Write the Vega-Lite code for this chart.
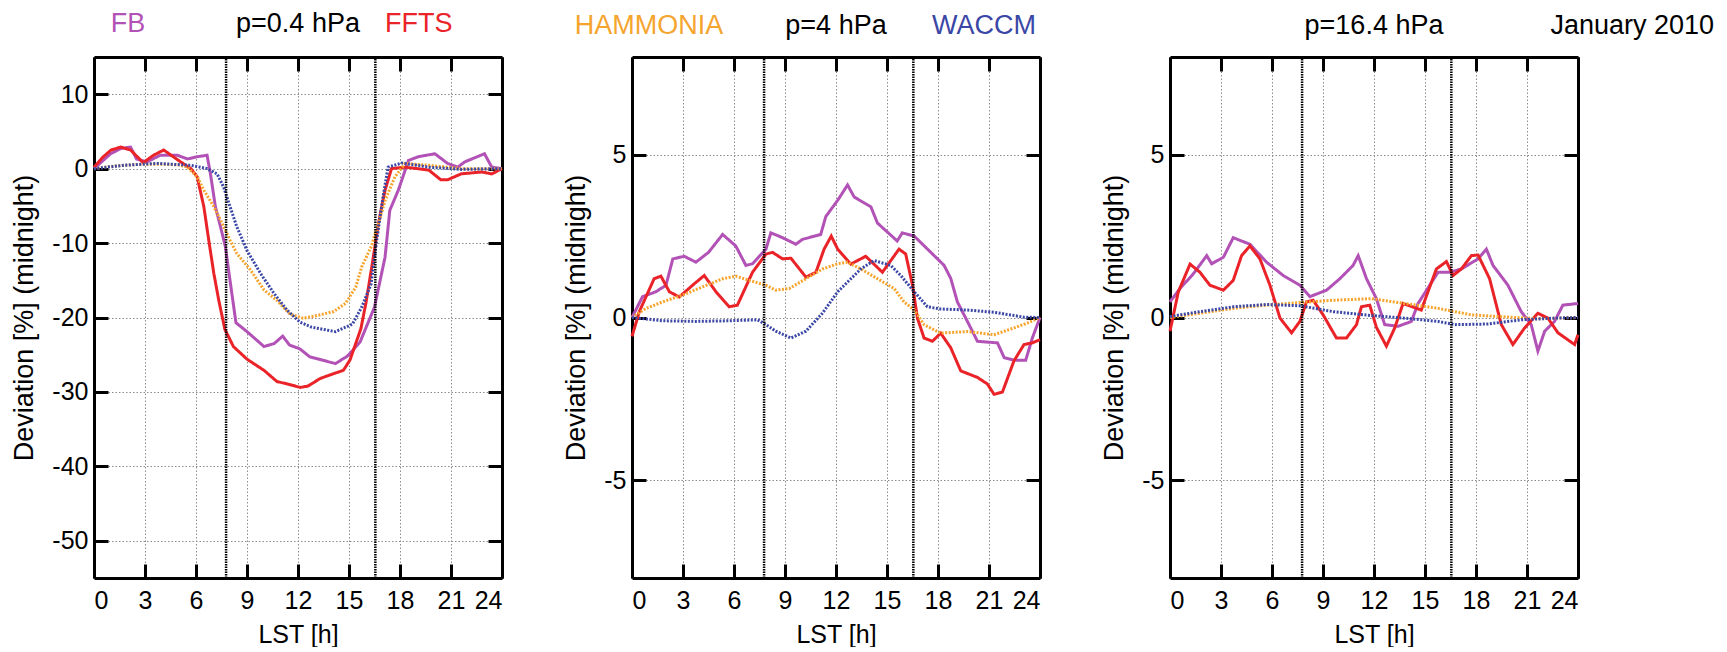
{
"$schema": "https://vega.github.io/schema/vega-lite/v6.json",
"background": "white",
"padding": {"left": 10, "top": 10, "right": 0, "bottom": 0},
"bounds": "flush",
"spacing": 130,
"config": {
 "view": {"stroke": null},
 "font": "Liberation Sans",
 "text": {"font": "Liberation Sans"},
 "axis": {"domainColor": "black", "domainWidth": 3, "tickColor": "black", "tickWidth": 3, "tickSize": -14, "labelFont": "Liberation Sans", "labelFontSize": 25, "labelColor": "black", "titleFont": "Liberation Sans", "titleFontSize": 25, "titleFontWeight": "normal", "titleColor": "black", "gridColor": "#8c8c8c", "gridDash": [1.5, 2], "gridWidth": 1, "labelPadding": 20, "labelExpr": "replace(datum.label, '\u2212', '-')"},
 "axisX": {"labelPadding": 24, "titlePadding": 9},
 "axisY": {"titleFontSize": 27, "titlePadding": 13}
},
"datasets": {
 "sun": [{"lst": 7.77}, {"lst": 16.55}],
 "p1": [
  {"model":"FB","lst":0,"dev":0},{"model":"FB","lst":0.98,"dev":2.0},{"model":"FB","lst":1.57,"dev":2.7},{"model":"FB","lst":2.15,"dev":2.9},{"model":"FB","lst":2.5,"dev":1.3},{"model":"FB","lst":3.1,"dev":0.9},{"model":"FB","lst":3.9,"dev":1.8},{"model":"FB","lst":4.9,"dev":1.8},{"model":"FB","lst":5.5,"dev":1.3},{"model":"FB","lst":6.07,"dev":1.6},{"model":"FB","lst":6.65,"dev":1.8},{"model":"FB","lst":6.85,"dev":-0.7},{"model":"FB","lst":7.14,"dev":-5.1},{"model":"FB","lst":7.44,"dev":-7.8},{"model":"FB","lst":7.73,"dev":-10.5},{"model":"FB","lst":8.0,"dev":-15},{"model":"FB","lst":8.35,"dev":-20.7},{"model":"FB","lst":9.0,"dev":-21.9},{"model":"FB","lst":10.0,"dev":-23.9},{"model":"FB","lst":10.6,"dev":-23.5},{"model":"FB","lst":11.1,"dev":-22.5},{"model":"FB","lst":11.5,"dev":-23.7},{"model":"FB","lst":12.1,"dev":-24.2},{"model":"FB","lst":12.7,"dev":-25.3},{"model":"FB","lst":13.4,"dev":-25.7},{"model":"FB","lst":14.2,"dev":-26.2},{"model":"FB","lst":14.9,"dev":-25.2},{"model":"FB","lst":15.65,"dev":-23.3},{"model":"FB","lst":16.5,"dev":-18.6},{"model":"FB","lst":17.12,"dev":-11.9},{"model":"FB","lst":17.4,"dev":-5.6},{"model":"FB","lst":17.9,"dev":-2.9},{"model":"FB","lst":18.5,"dev":1.1},{"model":"FB","lst":19.07,"dev":1.6},{"model":"FB","lst":20.05,"dev":2.0},{"model":"FB","lst":20.8,"dev":0.7},{"model":"FB","lst":21.4,"dev":0.2},{"model":"FB","lst":21.8,"dev":0.9},{"model":"FB","lst":22.97,"dev":2.0},{"model":"FB","lst":23.4,"dev":0.2},{"model":"FB","lst":24,"dev":0},
  {"model":"FFTS","lst":0,"dev":0.2},{"model":"FFTS","lst":0.5,"dev":1.5},{"model":"FFTS","lst":1.0,"dev":2.5},{"model":"FFTS","lst":1.57,"dev":2.9},{"model":"FFTS","lst":2.15,"dev":2.5},{"model":"FFTS","lst":2.9,"dev":0.8},{"model":"FFTS","lst":3.5,"dev":1.8},{"model":"FFTS","lst":4.1,"dev":2.5},{"model":"FFTS","lst":5.1,"dev":0.9},{"model":"FFTS","lst":5.7,"dev":0},{"model":"FFTS","lst":6.07,"dev":-1.1},{"model":"FFTS","lst":6.46,"dev":-5.1},{"model":"FFTS","lst":6.75,"dev":-9.6},{"model":"FFTS","lst":7.05,"dev":-14.1},{"model":"FFTS","lst":7.34,"dev":-17.7},{"model":"FFTS","lst":7.7,"dev":-21.6},{"model":"FFTS","lst":8.2,"dev":-23.9},{"model":"FFTS","lst":9.0,"dev":-25.6},{"model":"FFTS","lst":10.0,"dev":-27.1},{"model":"FFTS","lst":10.76,"dev":-28.6},{"model":"FFTS","lst":11.5,"dev":-29.0},{"model":"FFTS","lst":12.13,"dev":-29.4},{"model":"FFTS","lst":12.6,"dev":-29.2},{"model":"FFTS","lst":13.3,"dev":-28.2},{"model":"FFTS","lst":13.9,"dev":-27.7},{"model":"FFTS","lst":14.67,"dev":-27.1},{"model":"FFTS","lst":15.06,"dev":-25.7},{"model":"FFTS","lst":15.7,"dev":-21.5},{"model":"FFTS","lst":16.0,"dev":-18.0},{"model":"FFTS","lst":16.34,"dev":-13.2},{"model":"FFTS","lst":16.73,"dev":-7.4},{"model":"FFTS","lst":17.12,"dev":-2.9},{"model":"FFTS","lst":17.5,"dev":0},{"model":"FFTS","lst":18.3,"dev":0.2},{"model":"FFTS","lst":19.7,"dev":-0.2},{"model":"FFTS","lst":20.4,"dev":-1.5},{"model":"FFTS","lst":20.8,"dev":-1.5},{"model":"FFTS","lst":21.6,"dev":-0.7},{"model":"FFTS","lst":22.8,"dev":-0.45},{"model":"FFTS","lst":23.4,"dev":-0.7},{"model":"FFTS","lst":24,"dev":0},
  {"model":"HAMMONIA","lst":0,"dev":0},{"model":"HAMMONIA","lst":1,"dev":0.3},{"model":"HAMMONIA","lst":2,"dev":0.5},{"model":"HAMMONIA","lst":3,"dev":0.6},{"model":"HAMMONIA","lst":4,"dev":0.6},{"model":"HAMMONIA","lst":5,"dev":0.5},{"model":"HAMMONIA","lst":5.5,"dev":0.2},{"model":"HAMMONIA","lst":6.07,"dev":-1.1},{"model":"HAMMONIA","lst":6.46,"dev":-2.9},{"model":"HAMMONIA","lst":7.05,"dev":-5.1},{"model":"HAMMONIA","lst":7.63,"dev":-7.8},{"model":"HAMMONIA","lst":8.0,"dev":-9.6},{"model":"HAMMONIA","lst":8.4,"dev":-11.4},{"model":"HAMMONIA","lst":9.2,"dev":-13.6},{"model":"HAMMONIA","lst":10.0,"dev":-16.3},{"model":"HAMMONIA","lst":10.76,"dev":-17.7},{"model":"HAMMONIA","lst":11.5,"dev":-19.5},{"model":"HAMMONIA","lst":12.3,"dev":-20.1},{"model":"HAMMONIA","lst":13.0,"dev":-19.8},{"model":"HAMMONIA","lst":14.1,"dev":-19.2},{"model":"HAMMONIA","lst":14.8,"dev":-18.1},{"model":"HAMMONIA","lst":15.4,"dev":-15.9},{"model":"HAMMONIA","lst":15.75,"dev":-13.2},{"model":"HAMMONIA","lst":16.3,"dev":-10.5},{"model":"HAMMONIA","lst":16.73,"dev":-7.4},{"model":"HAMMONIA","lst":17.12,"dev":-4.3},{"model":"HAMMONIA","lst":17.7,"dev":-1.1},{"model":"HAMMONIA","lst":18.3,"dev":0.7},{"model":"HAMMONIA","lst":19.7,"dev":0.45},{"model":"HAMMONIA","lst":21.6,"dev":0},{"model":"HAMMONIA","lst":24,"dev":0},
  {"model":"WACCM","lst":0,"dev":0},{"model":"WACCM","lst":1.76,"dev":0.45},{"model":"WACCM","lst":3.7,"dev":0.7},{"model":"WACCM","lst":5.7,"dev":0.45},{"model":"WACCM","lst":6.65,"dev":0},{"model":"WACCM","lst":7.24,"dev":-0.7},{"model":"WACCM","lst":7.63,"dev":-2.5},{"model":"WACCM","lst":8.0,"dev":-5.1},{"model":"WACCM","lst":8.4,"dev":-7.8},{"model":"WACCM","lst":9.0,"dev":-11},{"model":"WACCM","lst":9.8,"dev":-14.1},{"model":"WACCM","lst":10.6,"dev":-16.8},{"model":"WACCM","lst":11.35,"dev":-19},{"model":"WACCM","lst":12.1,"dev":-20.6},{"model":"WACCM","lst":12.8,"dev":-21.3},{"model":"WACCM","lst":14.2,"dev":-21.9},{"model":"WACCM","lst":15.2,"dev":-20.9},{"model":"WACCM","lst":15.75,"dev":-18.6},{"model":"WACCM","lst":16.3,"dev":-15.5},{"model":"WACCM","lst":16.63,"dev":-9.6},{"model":"WACCM","lst":17.0,"dev":-3.8},{"model":"WACCM","lst":17.3,"dev":0.2},{"model":"WACCM","lst":18.1,"dev":0.76},{"model":"WACCM","lst":19.7,"dev":0.2},{"model":"WACCM","lst":21.6,"dev":-0.1},{"model":"WACCM","lst":24,"dev":0}
 ],
 "p2": [
  {"model":"FB","lst":0,"dev":0},{"model":"FB","lst":0.62,"dev":0.64},{"model":"FB","lst":1.4,"dev":0.79},{"model":"FB","lst":2.0,"dev":0.99},{"model":"FB","lst":2.4,"dev":1.8},{"model":"FB","lst":3.07,"dev":1.88},{"model":"FB","lst":3.76,"dev":1.7},{"model":"FB","lst":4.5,"dev":2.0},{"model":"FB","lst":5.33,"dev":2.55},{"model":"FB","lst":6.1,"dev":2.2},{"model":"FB","lst":6.7,"dev":1.6},{"model":"FB","lst":7.09,"dev":1.65},{"model":"FB","lst":7.88,"dev":2.1},{"model":"FB","lst":8.17,"dev":2.6},{"model":"FB","lst":8.86,"dev":2.45},{"model":"FB","lst":9.64,"dev":2.25},{"model":"FB","lst":10.03,"dev":2.4},{"model":"FB","lst":11.1,"dev":2.55},{"model":"FB","lst":11.4,"dev":3.1},{"model":"FB","lst":12.1,"dev":3.6},{"model":"FB","lst":12.68,"dev":4.07},{"model":"FB","lst":13.07,"dev":3.7},{"model":"FB","lst":14.05,"dev":3.4},{"model":"FB","lst":14.44,"dev":2.9},{"model":"FB","lst":15.6,"dev":2.35},{"model":"FB","lst":15.9,"dev":2.6},{"model":"FB","lst":16.6,"dev":2.5},{"model":"FB","lst":17.58,"dev":2.0},{"model":"FB","lst":18.36,"dev":1.6},{"model":"FB","lst":18.75,"dev":1.2},{"model":"FB","lst":19.14,"dev":0.48},{"model":"FB","lst":19.73,"dev":-0.12},{"model":"FB","lst":20.32,"dev":-0.73},{"model":"FB","lst":21.5,"dev":-0.78},{"model":"FB","lst":21.89,"dev":-1.23},{"model":"FB","lst":22.47,"dev":-1.31},{"model":"FB","lst":23.16,"dev":-1.31},{"model":"FB","lst":23.55,"dev":-0.63},{"model":"FB","lst":24,"dev":0},
  {"model":"FFTS","lst":0,"dev":-0.58},{"model":"FFTS","lst":0.43,"dev":0.18},{"model":"FFTS","lst":1.3,"dev":1.19},{"model":"FFTS","lst":1.7,"dev":1.27},{"model":"FFTS","lst":2.2,"dev":0.79},{"model":"FFTS","lst":2.78,"dev":0.63},{"model":"FFTS","lst":3.56,"dev":0.99},{"model":"FFTS","lst":4.25,"dev":1.29},{"model":"FFTS","lst":4.94,"dev":0.79},{"model":"FFTS","lst":5.72,"dev":0.33},{"model":"FFTS","lst":6.2,"dev":0.38},{"model":"FFTS","lst":7.09,"dev":1.39},{"model":"FFTS","lst":7.88,"dev":1.95},{"model":"FFTS","lst":8.27,"dev":2.0},{"model":"FFTS","lst":8.86,"dev":1.8},{"model":"FFTS","lst":9.35,"dev":1.82},{"model":"FFTS","lst":10.23,"dev":1.24},{"model":"FFTS","lst":10.82,"dev":1.39},{"model":"FFTS","lst":11.3,"dev":2.1},{"model":"FFTS","lst":11.72,"dev":2.5},{"model":"FFTS","lst":12.1,"dev":2.1},{"model":"FFTS","lst":12.87,"dev":1.64},{"model":"FFTS","lst":13.75,"dev":1.88},{"model":"FFTS","lst":14.73,"dev":1.39},{"model":"FFTS","lst":15.71,"dev":2.1},{"model":"FFTS","lst":16.1,"dev":1.95},{"model":"FFTS","lst":16.5,"dev":0.99},{"model":"FFTS","lst":16.79,"dev":-0.02},{"model":"FFTS","lst":17.18,"dev":-0.63},{"model":"FFTS","lst":17.67,"dev":-0.73},{"model":"FFTS","lst":18.16,"dev":-0.48},{"model":"FFTS","lst":18.75,"dev":-0.93},{"model":"FFTS","lst":19.34,"dev":-1.64},{"model":"FFTS","lst":20.32,"dev":-1.84},{"model":"FFTS","lst":20.9,"dev":-2.04},{"model":"FFTS","lst":21.3,"dev":-2.36},{"model":"FFTS","lst":21.79,"dev":-2.29},{"model":"FFTS","lst":22.47,"dev":-1.33},{"model":"FFTS","lst":23.06,"dev":-0.83},{"model":"FFTS","lst":23.55,"dev":-0.78},{"model":"FFTS","lst":24,"dev":-0.68},
  {"model":"HAMMONIA","lst":0,"dev":0},{"model":"HAMMONIA","lst":0.82,"dev":0.28},{"model":"HAMMONIA","lst":1.8,"dev":0.48},{"model":"HAMMONIA","lst":2.98,"dev":0.69},{"model":"HAMMONIA","lst":4.15,"dev":0.94},{"model":"HAMMONIA","lst":5.33,"dev":1.19},{"model":"HAMMONIA","lst":6.1,"dev":1.27},{"model":"HAMMONIA","lst":6.9,"dev":1.14},{"model":"HAMMONIA","lst":7.88,"dev":0.99},{"model":"HAMMONIA","lst":8.46,"dev":0.84},{"model":"HAMMONIA","lst":9.25,"dev":0.89},{"model":"HAMMONIA","lst":10.23,"dev":1.19},{"model":"HAMMONIA","lst":11.2,"dev":1.49},{"model":"HAMMONIA","lst":12.1,"dev":1.65},{"model":"HAMMONIA","lst":12.68,"dev":1.7},{"model":"HAMMONIA","lst":13.46,"dev":1.49},{"model":"HAMMONIA","lst":14.44,"dev":1.19},{"model":"HAMMONIA","lst":15.42,"dev":0.89},{"model":"HAMMONIA","lst":16.0,"dev":0.48},{"model":"HAMMONIA","lst":16.6,"dev":0.23},{"model":"HAMMONIA","lst":17.18,"dev":-0.22},{"model":"HAMMONIA","lst":18.16,"dev":-0.48},{"model":"HAMMONIA","lst":19.73,"dev":-0.43},{"model":"HAMMONIA","lst":21.3,"dev":-0.53},{"model":"HAMMONIA","lst":22.47,"dev":-0.32},{"model":"HAMMONIA","lst":23.26,"dev":-0.17},{"model":"HAMMONIA","lst":24,"dev":0},
  {"model":"WACCM","lst":0,"dev":0},{"model":"WACCM","lst":1.8,"dev":-0.1},{"model":"WACCM","lst":3.76,"dev":-0.12},{"model":"WACCM","lst":5.72,"dev":-0.1},{"model":"WACCM","lst":7.39,"dev":-0.07},{"model":"WACCM","lst":7.88,"dev":-0.22},{"model":"WACCM","lst":8.46,"dev":-0.42},{"model":"WACCM","lst":9.35,"dev":-0.63},{"model":"WACCM","lst":10.23,"dev":-0.42},{"model":"WACCM","lst":11.2,"dev":0.13},{"model":"WACCM","lst":12.1,"dev":0.79},{"model":"WACCM","lst":12.68,"dev":1.09},{"model":"WACCM","lst":13.46,"dev":1.49},{"model":"WACCM","lst":14.24,"dev":1.75},{"model":"WACCM","lst":15.22,"dev":1.6},{"model":"WACCM","lst":15.81,"dev":1.29},{"model":"WACCM","lst":16.6,"dev":0.79},{"model":"WACCM","lst":17.38,"dev":0.33},{"model":"WACCM","lst":18.16,"dev":0.26},{"model":"WACCM","lst":19.73,"dev":0.23},{"model":"WACCM","lst":21.3,"dev":0.16},{"model":"WACCM","lst":23.06,"dev":0.01},{"model":"WACCM","lst":24,"dev":0}
 ],
 "p3": [
  {"model":"FB","lst":0,"dev":0.48},{"model":"FB","lst":0.59,"dev":0.89},{"model":"FB","lst":1.37,"dev":1.34},{"model":"FB","lst":2.16,"dev":1.9},{"model":"FB","lst":2.45,"dev":1.65},{"model":"FB","lst":3.14,"dev":1.85},{"model":"FB","lst":3.72,"dev":2.45},{"model":"FB","lst":4.7,"dev":2.25},{"model":"FB","lst":5.68,"dev":1.7},{"model":"FB","lst":6.66,"dev":1.29},{"model":"FB","lst":7.64,"dev":0.99},{"model":"FB","lst":8.23,"dev":0.64},{"model":"FB","lst":9.21,"dev":0.84},{"model":"FB","lst":9.99,"dev":1.19},{"model":"FB","lst":10.77,"dev":1.6},{"model":"FB","lst":11.07,"dev":1.9},{"model":"FB","lst":11.56,"dev":1.19},{"model":"FB","lst":12.14,"dev":0.58},{"model":"FB","lst":12.63,"dev":-0.22},{"model":"FB","lst":13.42,"dev":-0.27},{"model":"FB","lst":14.2,"dev":-0.12},{"model":"FB","lst":14.59,"dev":0.43},{"model":"FB","lst":15.77,"dev":1.39},{"model":"FB","lst":16.45,"dev":1.39},{"model":"FB","lst":17.14,"dev":1.49},{"model":"FB","lst":18.12,"dev":1.8},{"model":"FB","lst":18.61,"dev":2.1},{"model":"FB","lst":19.0,"dev":1.6},{"model":"FB","lst":19.88,"dev":0.99},{"model":"FB","lst":20.66,"dev":0.18},{"model":"FB","lst":21.25,"dev":-0.22},{"model":"FB","lst":21.64,"dev":-1.03},{"model":"FB","lst":22.04,"dev":-0.42},{"model":"FB","lst":22.62,"dev":-0.12},{"model":"FB","lst":23.11,"dev":0.38},{"model":"FB","lst":24,"dev":0.43},
  {"model":"FFTS","lst":0,"dev":-0.42},{"model":"FFTS","lst":0.49,"dev":0.79},{"model":"FFTS","lst":1.18,"dev":1.64},{"model":"FFTS","lst":1.76,"dev":1.39},{"model":"FFTS","lst":2.35,"dev":0.99},{"model":"FFTS","lst":3.14,"dev":0.84},{"model":"FFTS","lst":3.72,"dev":1.14},{"model":"FFTS","lst":4.21,"dev":1.9},{"model":"FFTS","lst":4.7,"dev":2.2},{"model":"FFTS","lst":5.29,"dev":1.8},{"model":"FFTS","lst":5.88,"dev":0.99},{"model":"FFTS","lst":6.47,"dev":-0.02},{"model":"FFTS","lst":7.15,"dev":-0.47},{"model":"FFTS","lst":7.64,"dev":-0.12},{"model":"FFTS","lst":8.03,"dev":0.48},{"model":"FFTS","lst":8.42,"dev":0.53},{"model":"FFTS","lst":9.01,"dev":0.08},{"model":"FFTS","lst":9.79,"dev":-0.63},{"model":"FFTS","lst":10.38,"dev":-0.63},{"model":"FFTS","lst":10.97,"dev":-0.22},{"model":"FFTS","lst":11.26,"dev":0.33},{"model":"FFTS","lst":11.75,"dev":0.38},{"model":"FFTS","lst":12.14,"dev":-0.3},{"model":"FFTS","lst":12.73,"dev":-0.88},{"model":"FFTS","lst":13.22,"dev":-0.32},{"model":"FFTS","lst":13.71,"dev":0.43},{"model":"FFTS","lst":14.78,"dev":0.23},{"model":"FFTS","lst":15.67,"dev":1.49},{"model":"FFTS","lst":16.26,"dev":1.72},{"model":"FFTS","lst":16.65,"dev":1.29},{"model":"FFTS","lst":17.14,"dev":1.49},{"model":"FFTS","lst":17.73,"dev":1.9},{"model":"FFTS","lst":18.12,"dev":1.92},{"model":"FFTS","lst":18.8,"dev":1.19},{"model":"FFTS","lst":19.49,"dev":-0.22},{"model":"FFTS","lst":20.17,"dev":-0.83},{"model":"FFTS","lst":20.86,"dev":-0.32},{"model":"FFTS","lst":21.64,"dev":0.13},{"model":"FFTS","lst":22.23,"dev":-0.02},{"model":"FFTS","lst":22.82,"dev":-0.47},{"model":"FFTS","lst":23.8,"dev":-0.83},{"model":"FFTS","lst":24,"dev":-0.53},
  {"model":"HAMMONIA","lst":0,"dev":0},{"model":"HAMMONIA","lst":1.76,"dev":0.13},{"model":"HAMMONIA","lst":3.72,"dev":0.28},{"model":"HAMMONIA","lst":5.68,"dev":0.38},{"model":"HAMMONIA","lst":7.64,"dev":0.46},{"model":"HAMMONIA","lst":9.6,"dev":0.53},{"model":"HAMMONIA","lst":11.85,"dev":0.58},{"model":"HAMMONIA","lst":13.8,"dev":0.43},{"model":"HAMMONIA","lst":15.77,"dev":0.28},{"model":"HAMMONIA","lst":17.73,"dev":0.08},{"model":"HAMMONIA","lst":19.68,"dev":0.02},{"model":"HAMMONIA","lst":21.64,"dev":-0.04},{"model":"HAMMONIA","lst":24,"dev":0},
  {"model":"WACCM","lst":0,"dev":0.03},{"model":"WACCM","lst":1.76,"dev":0.18},{"model":"WACCM","lst":3.72,"dev":0.33},{"model":"WACCM","lst":5.68,"dev":0.4},{"model":"WACCM","lst":7.64,"dev":0.36},{"model":"WACCM","lst":9.6,"dev":0.18},{"model":"WACCM","lst":11.85,"dev":0.06},{"model":"WACCM","lst":13.8,"dev":-0.02},{"model":"WACCM","lst":15.77,"dev":-0.12},{"model":"WACCM","lst":16.75,"dev":-0.22},{"model":"WACCM","lst":18.7,"dev":-0.2},{"model":"WACCM","lst":20.66,"dev":-0.07},{"model":"WACCM","lst":22.62,"dev":-0.02},{"model":"WACCM","lst":24,"dev":0}
 ]
},
"hconcat": [
 {
  "width": 408, "height": 521,
  "resolve": {"axis": {"x": "independent", "y": "independent"}},
  "layer": [
   {
    "data": {"name": "p1"},
    "mark": {"type": "line", "strokeWidth": 3},
    "encoding": {
     "x": {"field": "lst", "type": "quantitative", "scale": {"domain": [0, 24], "nice": false, "zero": false}, "axis": {"orient": "bottom", "values": [0,3,6,9,12,15,18,21,24], "grid": true, "title": "LST [h]"}},
     "y": {"field": "dev", "type": "quantitative", "scale": {"domain": [-55, 15], "nice": false, "zero": false}, "axis": {"orient": "left", "values": [-50,-40,-30,-20,-10,0,10], "grid": true, "title": "Deviation [%] (midnight)"}},
     "color": {"field": "model", "type": "nominal", "scale": {"domain": ["FB","FFTS","HAMMONIA","WACCM"], "range": ["#b252b6","#ea2329","#f5a52e","#3b47a6"]}, "legend": null},
     "strokeDash": {"field": "model", "type": "nominal", "scale": {"domain": ["FB","FFTS","HAMMONIA","WACCM"], "range": [[1,0],[1,0],[2,1.5],[2,1.5]]}, "legend": null}
    }
   },
   {
    "data": {"name": "sun"},
    "mark": {"type": "rule", "color": "black", "strokeWidth": 2.5, "strokeDash": [1.5, 1]},
    "encoding": {
     "x": {"field": "lst", "type": "quantitative", "axis": {"orient": "top", "values": [0,3,6,9,12,15,18,21,24], "labels": false, "grid": false, "title": null}},
     "y": {"datum": -55, "axis": {"orient": "right", "values": [-50,-40,-30,-20,-10,0,10], "labels": false, "grid": false, "title": null}},
     "y2": {"datum": 15}
    }
   },
   {"data": {"values": [{}]}, "mark": {"type": "text", "fontSize": 27, "baseline": "alphabetic", "align": "center", "color": "#b252b6"}, "encoding": {"x": {"datum": 2.0, "axis": null}, "y": {"datum": 18.3, "axis": null}, "text": {"value": "FB"}}},
   {"data": {"values": [{}]}, "mark": {"type": "text", "fontSize": 27, "baseline": "alphabetic", "align": "center", "color": "black"}, "encoding": {"x": {"datum": 12, "axis": null}, "y": {"datum": 18.3, "axis": null}, "text": {"value": "p=0.4 hPa"}}},
   {"data": {"values": [{}]}, "mark": {"type": "text", "fontSize": 27, "baseline": "alphabetic", "align": "center", "color": "#ea2329"}, "encoding": {"x": {"datum": 19.1, "axis": null}, "y": {"datum": 18.3, "axis": null}, "text": {"value": "FFTS"}}}
  ]
 },
 {
  "width": 408, "height": 521,
  "resolve": {"axis": {"x": "independent", "y": "independent"}},
  "layer": [
   {
    "data": {"name": "p2"},
    "mark": {"type": "line", "strokeWidth": 3},
    "encoding": {
     "x": {"field": "lst", "type": "quantitative", "scale": {"domain": [0, 24], "nice": false, "zero": false}, "axis": {"orient": "bottom", "values": [0,3,6,9,12,15,18,21,24], "grid": true, "title": "LST [h]"}},
     "y": {"field": "dev", "type": "quantitative", "scale": {"domain": [-8, 8], "nice": false, "zero": false}, "axis": {"orient": "left", "values": [-5,0,5], "grid": true, "title": "Deviation [%] (midnight)"}},
     "color": {"field": "model", "type": "nominal", "scale": {"domain": ["FB","FFTS","HAMMONIA","WACCM"], "range": ["#b252b6","#ea2329","#f5a52e","#3b47a6"]}, "legend": null},
     "strokeDash": {"field": "model", "type": "nominal", "scale": {"domain": ["FB","FFTS","HAMMONIA","WACCM"], "range": [[1,0],[1,0],[2,1.5],[2,1.5]]}, "legend": null}
    }
   },
   {
    "data": {"name": "sun"},
    "mark": {"type": "rule", "color": "black", "strokeWidth": 2.5, "strokeDash": [1.5, 1]},
    "encoding": {
     "x": {"field": "lst", "type": "quantitative", "axis": {"orient": "top", "values": [0,3,6,9,12,15,18,21,24], "labels": false, "grid": false, "title": null}},
     "y": {"datum": -8, "axis": {"orient": "right", "values": [-5,0,5], "labels": false, "grid": false, "title": null}},
     "y2": {"datum": 8}
    }
   },
   {"data": {"values": [{}]}, "mark": {"type": "text", "fontSize": 27, "baseline": "alphabetic", "align": "center", "color": "#f5a52e"}, "encoding": {"x": {"datum": 1.0, "axis": null}, "y": {"datum": 8.71, "axis": null}, "text": {"value": "HAMMONIA"}}},
   {"data": {"values": [{}]}, "mark": {"type": "text", "fontSize": 27, "baseline": "alphabetic", "align": "center", "color": "black"}, "encoding": {"x": {"datum": 12, "axis": null}, "y": {"datum": 8.71, "axis": null}, "text": {"value": "p=4 hPa"}}},
   {"data": {"values": [{}]}, "mark": {"type": "text", "fontSize": 27, "baseline": "alphabetic", "align": "center", "color": "#3b47a6"}, "encoding": {"x": {"datum": 20.7, "axis": null}, "y": {"datum": 8.71, "axis": null}, "text": {"value": "WACCM"}}}
  ]
 },
 {
  "width": 408, "height": 521,
  "resolve": {"axis": {"x": "independent", "y": "independent"}},
  "layer": [
   {
    "data": {"name": "p3"},
    "mark": {"type": "line", "strokeWidth": 3},
    "encoding": {
     "x": {"field": "lst", "type": "quantitative", "scale": {"domain": [0, 24], "nice": false, "zero": false}, "axis": {"orient": "bottom", "values": [0,3,6,9,12,15,18,21,24], "grid": true, "title": "LST [h]"}},
     "y": {"field": "dev", "type": "quantitative", "scale": {"domain": [-8, 8], "nice": false, "zero": false}, "axis": {"orient": "left", "values": [-5,0,5], "grid": true, "title": "Deviation [%] (midnight)"}},
     "color": {"field": "model", "type": "nominal", "scale": {"domain": ["FB","FFTS","HAMMONIA","WACCM"], "range": ["#b252b6","#ea2329","#f5a52e","#3b47a6"]}, "legend": null},
     "strokeDash": {"field": "model", "type": "nominal", "scale": {"domain": ["FB","FFTS","HAMMONIA","WACCM"], "range": [[1,0],[1,0],[2,1.5],[2,1.5]]}, "legend": null}
    }
   },
   {
    "data": {"name": "sun"},
    "mark": {"type": "rule", "color": "black", "strokeWidth": 2.5, "strokeDash": [1.5, 1]},
    "encoding": {
     "x": {"field": "lst", "type": "quantitative", "axis": {"orient": "top", "values": [0,3,6,9,12,15,18,21,24], "labels": false, "grid": false, "title": null}},
     "y": {"datum": -8, "axis": {"orient": "right", "values": [-5,0,5], "labels": false, "grid": false, "title": null}},
     "y2": {"datum": 8}
    }
   },
   {"data": {"values": [{}]}, "mark": {"type": "text", "fontSize": 27, "baseline": "alphabetic", "align": "center", "color": "black"}, "encoding": {"x": {"datum": 12, "axis": null}, "y": {"datum": 8.71, "axis": null}, "text": {"value": "p=16.4 hPa"}}},
   {"data": {"values": [{}]}, "mark": {"type": "text", "fontSize": 27, "baseline": "alphabetic", "align": "right", "color": "black"}, "encoding": {"x": {"datum": 32.0, "axis": null}, "y": {"datum": 8.71, "axis": null}, "text": {"value": "January 2010"}}}
  ]
 }
]
}
